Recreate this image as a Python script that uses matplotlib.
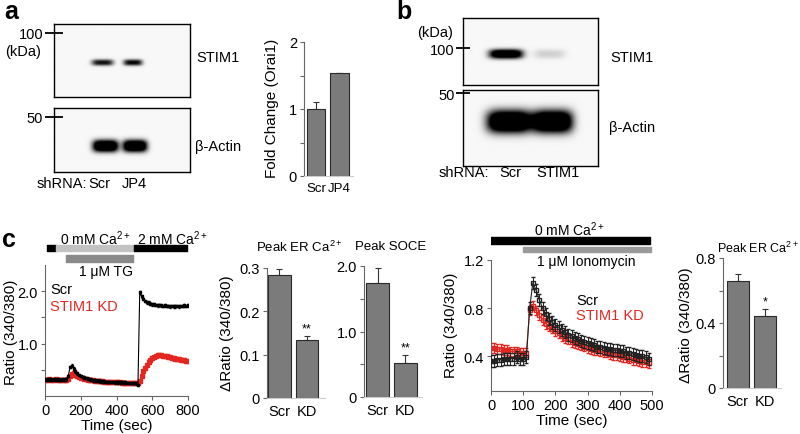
import numpy as np
import matplotlib
matplotlib.use("Agg")
import matplotlib.pyplot as plt

plt.rcParams["font.family"] = ["Liberation Sans", "DejaVu Sans"]
plt.rcParams["mathtext.fontset"] = "custom"
plt.rcParams["mathtext.rm"] = "Liberation Sans"
plt.rcParams["mathtext.it"] = "Liberation Sans:italic"
plt.rcParams["mathtext.bf"] = "Liberation Sans:bold"

W, H = 800, 435
RED = "#e3261f"
BAR = "#7b7b7b"

# ---- panel a / b : western blot band intensities (per lane) ----
blot_a_lanes = ["Scr", "JP4"]
blot_a_stim1 = [0.95, 1.0]
blot_a_actin = [1.6, 1.6]
blot_b_lanes = ["Scr", "STIM1"]
blot_b_stim1 = [1.5, 0.16]
blot_b_actin = [1.7, 1.7]

# ---- panel a : Orai1 fold change ----
fold_labels = ["Scr", "JP4"]
fold_vals = [1.0, 1.53]
fold_err = [0.1, 0.01]

# ---- panel c : bar summaries ----
kd_labels = ["Scr", "KD"]
er_vals = [0.284, 0.134]
er_err = [0.014, 0.009]
soce_vals = [1.74, 0.52]
soce_err = [0.23, 0.12]
iono_vals = [0.66, 0.443]
iono_err = [0.04, 0.043]

# ---- panel c : TG trace (ratio 340/380), every 10 s from 0 to 800 s ----
tg_time = np.arange(0, 810, 10)
tg_scr = [0.32, 0.31, 0.32, 0.32, 0.31, 0.32, 0.31, 0.32, 0.31, 0.31, 0.32, 0.31, 0.32,
          0.38, 0.55, 0.58, 0.52, 0.47, 0.43, 0.40, 0.38, 0.36, 0.35, 0.34, 0.33, 0.32,
          0.31, 0.30, 0.30, 0.29, 0.29, 0.28, 0.28, 0.28, 0.27, 0.27, 0.27, 0.27, 0.27,
          0.26, 0.26, 0.26, 0.26, 0.26, 0.26, 0.26, 0.25, 0.25, 0.25, 0.25, 0.25, 0.24,
          0.21, 1.98, 1.90, 1.85, 1.81, 1.79, 1.78, 1.76, 1.75, 1.75, 1.74, 1.73, 1.74,
          1.73, 1.72, 1.73, 1.72, 1.72, 1.71, 1.72, 1.71, 1.71, 1.72, 1.71, 1.72, 1.72,
          1.73, 1.72, 1.73]
tg_kd = [0.31, 0.31, 0.32, 0.31, 0.31, 0.31, 0.32, 0.31, 0.31, 0.31, 0.31, 0.31, 0.31,
         0.33, 0.38, 0.42, 0.43, 0.41, 0.39, 0.37, 0.35, 0.34, 0.33, 0.32, 0.31, 0.31,
         0.30, 0.30, 0.29, 0.29, 0.28, 0.28, 0.28, 0.27, 0.27, 0.27, 0.27, 0.26, 0.26,
         0.26, 0.26, 0.26, 0.26, 0.25, 0.25, 0.25, 0.25, 0.25, 0.25, 0.25, 0.25, 0.25,
         0.25, 0.29, 0.38, 0.47, 0.54, 0.60, 0.65, 0.69, 0.72, 0.75, 0.77, 0.78, 0.78,
         0.78, 0.77, 0.77, 0.76, 0.75, 0.74, 0.73, 0.72, 0.71, 0.71, 0.70, 0.69, 0.68,
         0.68, 0.67, 0.66]
tg_scr_err = 0.025
tg_kd_err = 0.015

# ---- panel c : ionomycin trace, every 10 s from 0 to 490 s ----
io_time = np.arange(0, 500, 10)
io_scr = [0.36, 0.36, 0.37, 0.37, 0.38, 0.38, 0.38, 0.38, 0.39, 0.38, 0.38, 0.39,
          0.80, 1.01, 0.95, 0.87, 0.80, 0.75, 0.71, 0.68, 0.66, 0.64, 0.62, 0.60,
          0.58, 0.57, 0.55, 0.54, 0.53, 0.52, 0.51, 0.50, 0.49, 0.48, 0.48, 0.47,
          0.46, 0.46, 0.45, 0.45, 0.44, 0.44, 0.43, 0.43, 0.42, 0.41, 0.40, 0.40,
          0.39, 0.38]
io_kd = [0.47, 0.47, 0.46, 0.46, 0.45, 0.45, 0.44, 0.44, 0.44, 0.43, 0.43, 0.43,
         0.78, 0.82, 0.78, 0.74, 0.70, 0.67, 0.65, 0.63, 0.61, 0.59, 0.57, 0.55,
         0.54, 0.52, 0.51, 0.50, 0.49, 0.48, 0.47, 0.46, 0.45, 0.45, 0.44, 0.43,
         0.43, 0.42, 0.41, 0.41, 0.40, 0.39, 0.39, 0.38, 0.37, 0.37, 0.36, 0.35,
         0.35, 0.34]
io_scr_err = 0.05
io_kd_err = 0.04

# treatment periods (start, end) in seconds
tg_calcium = [(10, 60, "black"), (60, 500, "#c2c2c2"), (500, 795, "black")]
tg_drug = [(120, 495)]
io_calcium = [(0, 495)]
io_drug = [(100, 497)]


fig = plt.figure(figsize=(8, 4.35), dpi=100)


def px_ax(x0, y0, x1, y1):
    return fig.add_axes([x0 / W, 1 - y1 / H, (x1 - x0) / W, (y1 - y0) / H])


def px_text(x, y, s, **kw):
    kw.setdefault("fontsize", 10)
    return fig.text(x / W, 1 - y / H, s, **kw)


def blot_image(centers, widths, levels, yc, h):
    xs = np.linspace(0, 1, 300)
    ys = np.linspace(0, 1, 150)
    gx, gy = np.meshgrid(xs, ys)
    dens = np.zeros_like(gx)
    for c, w, lv in zip(centers, widths, levels):
        dens += lv * np.exp(-np.abs((gx - c) / (w / 2)) ** 4) * np.exp(-np.abs((gy - yc) / (h / 2)) ** 2.5)
    return 0.97 * (1 - np.clip(dens, 0, 1))


def draw_blot(box, centers, widths, levels, yc, h, marker, marker_pos, tick_len):
    ax = px_ax(*box)
    ax.imshow(blot_image(centers, widths, levels, yc, h), cmap="gray", vmin=0, vmax=1,
              extent=[0, 1, 0, 1], origin="lower", aspect="auto", interpolation="bilinear")
    ax.set_xlim(0, 1)
    ax.set_ylim(0, 1)
    ax.set_xticks([])
    ax.set_yticks([marker_pos])
    ax.set_yticklabels([marker], fontsize=10.5)
    ax.tick_params(axis="y", direction="inout", length=tick_len, width=1.3, pad=1)
    for sp in ax.spines.values():
        sp.set_linewidth(1.0)
    return ax


def bar_panel(box, labels, vals, err, xlim, ylim, ticks, ticklabels, stars=None, xsize=10.5):
    ax = px_ax(*box)
    x = np.arange(len(vals))
    ax.bar(x, vals, width=0.82, color=BAR, edgecolor="#2a2a2a", linewidth=0.8, zorder=2)
    ax.errorbar(x, vals, yerr=[[0] * len(vals), err], fmt="none", ecolor="#333333",
                elinewidth=0.8, capsize=2, capthick=0.8, zorder=1)
    ax.set_xlim(*xlim)
    ax.set_ylim(*ylim)
    ax.set_yticks(ticks)
    ax.set_yticklabels(ticklabels)
    ax.set_xticks(x)
    ax.set_xticklabels(labels, fontsize=xsize)
    ax.tick_params(axis="x", length=0, pad=4)
    ax.tick_params(axis="y", length=3, color="#666666", labelsize=10.5, pad=2)
    for side in ["top", "right"]:
        ax.spines[side].set_visible(False)
    ax.spines["left"].set_color("#666666")
    ax.spines["left"].set_linewidth(0.8)
    ax.spines["bottom"].set_color("#cccccc")
    ax.spines["bottom"].set_linewidth(0.8)
    if stars:
        ax.text(1, vals[1] + err[1] + (ylim[1] - ylim[0]) * 0.01, stars,
                ha="center", va="bottom", fontsize=9)
    return ax


def trace_axes(ax, xlim, ylim, xticks, yticks, yticklabels):
    ax.set_xlim(*xlim)
    ax.set_ylim(*ylim)
    ax.set_xticks(xticks)
    ax.set_yticks(yticks)
    ax.set_yticklabels(yticklabels)
    ax.tick_params(length=3, color="#666666", labelsize=10.5, pad=2)
    for side in ["top", "right"]:
        ax.spines[side].set_visible(False)
    for side in ["left", "bottom"]:
        ax.spines[side].set_color("#666666")
        ax.spines[side].set_linewidth(0.8)
    ax.set_xlabel("Time (sec)", fontsize=11, labelpad=1)


# ================= panel a =================
px_text(4, 12, "a", fontsize=18, fontweight="bold", va="center")
draw_blot((54, 25, 190, 98), [0.357, 0.581], [0.16, 0.14], blot_a_stim1, 0.466, 0.085,
          "100", 0.877, 13.5)
draw_blot((54, 109, 190, 173), [0.379, 0.596], [0.19, 0.18], blot_a_actin, 0.406, 0.19,
          "50", 0.86, 13.5)
px_text(23, 52, "(kDa)", ha="center", va="center", fontsize=10.5)
px_text(196, 58, "STIM1", va="center", fontsize=10.5)
px_text(195, 147, "β-Actin", va="center", fontsize=10.5)
px_text(37, 184, "shRNA:", va="center", fontsize=10.5)
px_text(99, 184, blot_a_lanes[0], ha="center", va="center", fontsize=10.5)
px_text(134, 184, blot_a_lanes[1], ha="center", va="center", fontsize=10.5)

bar_panel((304, 43, 353, 177), fold_labels, fold_vals, fold_err, (-0.52, 1.6), (0, 2),
          [0, 0.5, 1, 1.5, 2], ["0", "", "1", "", "2"], xsize=9.5)
px_text(272, 108, "Fold Change (Orai1)", rotation=90, ha="center", va="center", fontsize=11)

# ================= panel b =================
px_text(396, 12, "b", fontsize=18, fontweight="bold", va="center")
draw_blot((463, 19, 598, 86), [0.319, 0.641], [0.25, 0.23], blot_b_stim1, 0.463, 0.14,
          "100", 0.552, 10)
draw_blot((463, 91, 598, 167), [0.344, 0.663], [0.333, 0.30], blot_b_actin, 0.585, 0.30,
          "50", 0.96, 10)
px_text(435, 33, "(kDa)", ha="center", va="center", fontsize=10.5)
px_text(610, 58, "STIM1", va="center", fontsize=10.5)
px_text(609, 128, "β-Actin", va="center", fontsize=10.5)
px_text(439, 173, "shRNA:", va="center", fontsize=10.5)
px_text(510, 173, blot_b_lanes[0], ha="center", va="center", fontsize=10.5)
px_text(558, 173, blot_b_lanes[1], ha="center", va="center", fontsize=10.5)

# ================= panel c =================
px_text(2, 240, "c", fontsize=18, fontweight="bold", va="center")

# TG trace
ax_tg = px_ax(45, 266, 188, 397)
ax_tg.errorbar(tg_time, tg_scr, yerr=tg_scr_err, fmt="s", ms=1.8, color="black",
               elinewidth=0.6, capsize=1, lw=0.8, ls="-", zorder=3)
ax_tg.errorbar(tg_time, tg_kd, yerr=tg_kd_err, fmt="s", ms=2.2, color=RED,
               elinewidth=0.6, capsize=1, lw=0.8, ls="-", zorder=2)
trace_axes(ax_tg, (0, 800), (0, 2.5), [0, 200, 400, 600, 800], [0.5, 1.0, 1.5, 2.0],
           ["", "1.0", "", "2.0"])
px_text(11, 332, "Ratio (340/380)", rotation=90, ha="center", va="center", fontsize=11)
px_text(50, 290, "Scr", va="center", fontsize=10.5)
px_text(50, 307, "STIM1 KD", va="center", fontsize=10.5, color=RED)

ax_tl = px_ax(45, 236, 188, 266)
for start, end, col in tg_calcium:
    ax_tl.broken_barh([(start, end - start)], (246, 6), color=col)
ax_tl.broken_barh([(s, e - s) for s, e in tg_drug], (256, 7), color="#8a8a8a")
ax_tl.set_xlim(0, 800)
ax_tl.set_ylim(266, 236)
ax_tl.axis("off")
px_text(60, 239, "0 mM Ca$^{2+}$", va="center", fontsize=10)
px_text(137, 239, "2 mM Ca$^{2+}$", va="center", fontsize=10)
px_text(106, 272, "1 μM TG", ha="center", va="center", fontsize=10)

# ER and SOCE bars
bar_panel((267, 269, 325, 399), kd_labels, er_vals, er_err, (-0.45, 1.65), (0, 0.3),
          [0, 0.1, 0.2, 0.3], ["0", "0.1", "0.2", "0.3"], stars="**")
px_text(299, 247, "Peak ER Ca$^{2+}$", ha="center", va="center", fontsize=9.5)
px_text(227, 333, "ΔRatio (340/380)", rotation=90, ha="center", va="center", fontsize=11)
bar_panel((364, 267, 422, 398), kd_labels, soce_vals, soce_err, (-0.49, 1.6), (0, 2.0),
          [0, 0.5, 1.0, 1.5, 2.0], ["0", "", "1.0", "", "2.0"], stars="**")
px_text(391, 247, "Peak SOCE", ha="center", va="center", fontsize=9.5)

# Ionomycin trace
ax_io = px_ax(491, 261, 652, 392)
ax_io.errorbar(io_time, io_scr, yerr=io_scr_err, fmt="s", ms=2.2, color="#222222",
               mfc="none", elinewidth=0.7, capsize=1.2, lw=0.8, ls="-", zorder=3)
ax_io.errorbar(io_time, io_kd, yerr=io_kd_err, fmt="s", ms=2.2, color=RED,
               mfc="none", elinewidth=0.7, capsize=1.2, lw=0.8, ls="-", zorder=2)
trace_axes(ax_io, (0, 500), (0.11, 1.2), [0, 100, 200, 300, 400, 500], [0.4, 0.8, 1.2],
           ["0.4", "0.8", "1.2"])
px_text(451, 325, "Ratio (340/380)", rotation=90, ha="center", va="center", fontsize=11)
px_text(576, 301, "Scr", va="center", fontsize=10.5)
px_text(576, 316, "STIM1 KD", va="center", fontsize=10.5, color=RED)

ax_tl2 = px_ax(491, 236, 652, 256)
ax_tl2.broken_barh([(s, e - s) for s, e in io_calcium], (238, 7), color="black")
ax_tl2.broken_barh([(s, e - s) for s, e in io_drug], (248, 4.5), color="#9a9a9a")
ax_tl2.set_xlim(0, 500)
ax_tl2.set_ylim(256, 236)
ax_tl2.axis("off")
px_text(569, 230, "0 mM Ca$^{2+}$", ha="center", va="center", fontsize=10)
px_text(586, 262, "1 μM Ionomycin", ha="center", va="center", fontsize=10)

# Ionomycin peak bars
bar_panel((723, 259, 781, 389), kd_labels, iono_vals, iono_err, (-0.54, 1.6), (0, 0.8),
          [0, 0.2, 0.4, 0.6, 0.8], ["0", "", "0.4", "", "0.8"], stars="*")
px_text(758, 248, "Peak ER Ca$^{2+}$", ha="center", va="center", fontsize=9)
px_text(686, 325, "ΔRatio (340/380)", rotation=90, ha="center", va="center", fontsize=11)

fig.savefig("out.png", dpi=100)
